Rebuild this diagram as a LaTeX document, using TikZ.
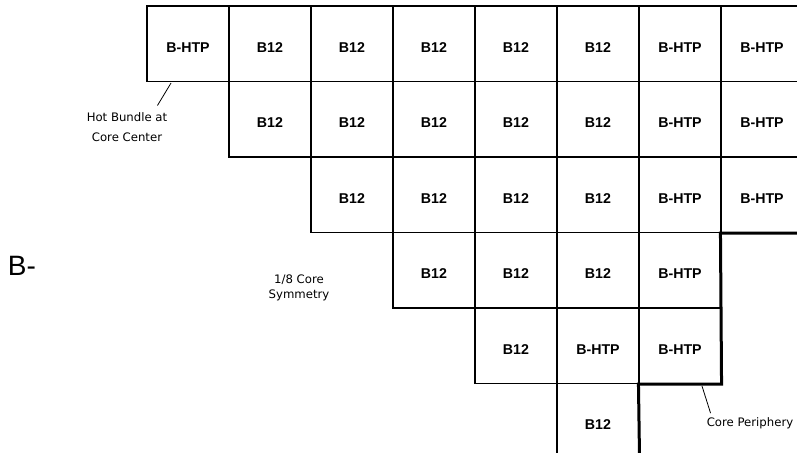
\documentclass[tikz,border=0pt]{standalone}
\usepackage{fontspec}
\setmainfont{DejaVu Sans}
\newfontfamily\cellfont{Liberation Sans}
\begin{document}
\begin{tikzpicture}[x=1pt, y=-1pt, line join=miter,
		cell/.style={draw, line width=1.1pt, minimum width=82pt, minimum height=75.5pt, inner sep=0pt,
			text height=17pt, text depth=0pt, font=\cellfont\bfseries\fontsize{14.2}{16}\selectfont},
		note/.style={inner sep=0pt, align=center},
		periphery/.style={line width=3pt}]
	\useasboundingbox (0,0) rectangle (797,452);
	\clip (0,0) rectangle (797,452);
	
	% rows of the 1/8 core
	\foreach \lab [count=\i from 0] in {B-HTP,B12,B12,B12,B12,B12,B-HTP,B-HTP}
		\node[cell] (r1c\i) at ({188+82*\i},43.75) {\lab};
	\foreach \lab [count=\i from 1] in {B12,B12,B12,B12,B12,B-HTP,B-HTP}
		\node[cell] (r2c\i) at ({188+82*\i},119.25) {\lab};
	\foreach \lab [count=\i from 2] in {B12,B12,B12,B12,B-HTP,B-HTP}
		\node[cell] (r3c\i) at ({188+82*\i},194.75) {\lab};
	\foreach \lab [count=\i from 3] in {B12,B12,B12,B-HTP}
		\node[cell] (r4c\i) at ({188+82*\i},270.25) {\lab};
	\foreach \lab [count=\i from 4] in {B12,B-HTP,B-HTP}
		\node[cell] (r5c\i) at ({188+82*\i},345.75) {\lab};
	\node[cell] (r6c5) at (598,421.25) {B12};
	
	% core periphery
	\draw[periphery] (r3c7.south east) -- (r3c7.south west) -- (r5c6.south east)
		-- (r5c6.south west) -- (r6c5.south east);
	
	% notes
	\node[note, font=\fontsize{11.7}{19.5}\selectfont] (hot) at (127,127) {Hot Bundle at\\Core Center};
	\draw[line width=0.8pt] ([xshift=-17pt,yshift=-1pt]r1c0.south) -- ([xshift=-10pt,yshift=7pt]hot.north east);
	
	\node[note, font=\fontsize{11.7}{15.5}\selectfont] (sym) at (299,288) {1/8 Core\\Symmetry};
	
	\node[note, font=\fontsize{11.7}{14}\selectfont] (peri) at (750,423) {Core Periphery};
	\draw[line width=0.8pt] ([xshift=22pt,yshift=-2pt]r5c6.south) -- ([xshift=4pt,yshift=4pt]peri.north west);
	
	\node[inner sep=0pt, font=\cellfont\fontsize{28}{32}\selectfont] (bdash) at (22,266) {B-};
\end{tikzpicture}
\end{document}
